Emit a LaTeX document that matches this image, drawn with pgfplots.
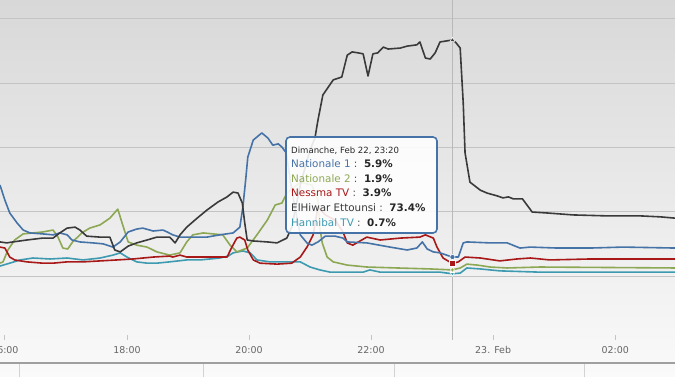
\documentclass[border=0pt]{standalone}
\usepackage{pgfplots}
\pgfplotsset{compat=1.18}
\usepackage{fontspec}
\setmainfont{DejaVu Sans}
\definecolor{cBlue}{HTML}{4572A7}
\definecolor{cGreen}{HTML}{8DA854}
\definecolor{cRed}{HTML}{A81818}
\definecolor{cDark}{HTML}{3A3A3A}
\definecolor{cTeal}{HTML}{3D9AB0}
\definecolor{cGrid}{HTML}{C4C4C4}
\definecolor{cBgTop}{HTML}{D8D8D8}
\definecolor{cBgBot}{HTML}{FAFAFA}
\definecolor{cLab}{HTML}{666666}

\pgfplotstableread{
h v
15.92 28.3
16.00 23.6
16.08 19.6
16.20 16.5
16.30 14.3
16.41 13.4
16.62 13.1
16.79 12.8
16.90 13.4
17.02 12.8
17.10 11.2
17.23 10.6
17.44 10.3
17.61 10.0
17.77 9.0
17.89 10.6
18.02 13.7
18.16 14.6
18.26 14.9
18.43 14.0
18.59 14.3
18.66 13.7
18.75 12.8
18.87 12.1
19.08 12.1
19.31 12.1
19.52 12.8
19.74 13.4
19.85 15.2
19.90 21.5
19.95 30.8
19.98 37.0
20.07 42.3
20.21 44.5
20.31 42.9
20.39 40.7
20.48 41.1
20.54 40.1
20.61 38.3
20.70 26.7
20.84 12.8
20.95 10.3
21.03 9.6
21.13 10.6
21.25 12.4
21.41 12.4
21.54 11.8
21.61 10.6
21.93 10.3
22.31 9.0
22.59 8.1
22.75 8.7
22.84 10.6
22.92 8.4
23.02 7.5
23.13 7.2
23.33 5.9
23.43 5.9
23.51 10.3
23.57 10.6
23.95 10.3
24.23 10.3
24.44 8.7
24.61 9.0
25.05 8.7
25.59 8.7
26.13 9.0
26.98 8.7
}\natA

\pgfplotstableread{
h v
15.92 4.0
15.97 4.4
16.05 8.1
16.16 11.2
16.30 13.1
16.46 13.4
16.62 13.7
16.79 14.3
16.87 12.1
16.95 8.7
17.03 8.4
17.11 10.6
17.26 13.4
17.39 14.9
17.56 15.9
17.72 18.0
17.85 20.8
17.93 15.9
18.02 10.6
18.16 9.6
18.33 9.0
18.49 7.5
18.70 6.5
18.87 7.2
18.98 10.6
19.08 12.8
19.25 13.4
19.41 13.1
19.57 12.8
19.69 9.6
19.80 7.5
19.97 8.7
20.13 12.8
20.30 17.4
20.43 22.1
20.54 22.7
20.62 25.8
20.84 29.2
21.03 28.3
21.13 23.6
21.16 15.2
21.20 10.3
21.28 5.9
21.38 4.4
21.61 3.4
21.93 2.8
22.43 2.5
22.97 2.2
23.33 1.9
23.46 2.5
23.57 3.7
23.74 3.4
23.95 2.8
24.23 2.5
24.77 2.8
26.98 2.5
}\natB

\pgfplotstableread{
h v
15.92 9.0
16.00 8.7
16.08 5.9
16.16 5.0
16.36 4.4
16.62 4.0
16.79 4.0
17.02 4.4
17.28 4.4
17.56 4.7
17.84 5.0
18.10 5.3
18.43 5.9
18.70 6.2
18.75 5.9
18.87 6.5
18.98 5.9
19.20 5.9
19.41 5.9
19.64 5.9
19.72 9.0
19.80 11.8
19.85 12.1
19.93 11.2
19.98 8.1
20.07 5.0
20.18 4.0
20.46 3.7
20.70 4.0
20.84 5.9
20.95 9.0
21.05 12.8
21.13 21.5
21.25 19.0
21.41 17.4
21.54 13.7
21.61 10.3
21.70 9.6
21.93 12.1
22.15 11.2
22.48 11.8
22.80 12.1
22.89 12.8
23.02 11.8
23.08 9.0
23.18 5.6
23.33 3.9
23.43 4.4
23.54 5.9
23.79 5.6
24.11 4.7
24.39 5.3
24.61 5.6
24.93 5.0
25.59 5.3
26.98 5.3
}\nessma

\pgfplotstableread{
h v
15.92 10.6
16.03 10.3
16.13 10.6
16.36 11.2
16.62 11.8
16.79 11.8
16.90 13.4
17.02 14.9
17.15 15.2
17.23 14.3
17.34 12.4
17.56 12.1
17.72 12.1
17.80 8.1
17.89 7.5
18.02 9.3
18.16 10.3
18.33 11.2
18.49 12.1
18.70 12.1
18.79 10.3
18.87 12.8
18.98 15.2
19.15 18.0
19.31 20.5
19.49 23.0
19.64 24.6
19.74 26.1
19.82 25.8
19.89 22.7
19.93 16.5
19.97 11.2
20.07 10.9
20.30 10.6
20.46 10.3
20.62 11.8
20.70 15.2
20.84 28.3
21.00 39.2
21.08 42.9
21.13 48.5
21.21 56.3
21.38 61.0
21.52 61.9
21.61 68.7
21.69 69.7
21.79 69.4
21.87 69.1
21.95 62.2
22.03 69.1
22.11 69.4
22.20 71.2
22.28 70.6
22.48 70.9
22.59 71.5
22.75 71.9
22.80 72.8
22.89 67.8
22.97 67.5
23.05 69.4
23.13 72.8
23.33 73.4
23.38 72.8
23.46 70.9
23.51 53.8
23.54 38.3
23.62 29.2
23.79 26.7
23.90 25.8
24.07 24.9
24.16 24.3
24.25 24.6
24.33 24.0
24.48 24.0
24.64 19.9
24.89 19.6
25.31 19.0
25.87 18.7
26.41 18.7
26.74 18.4
26.98 18.0
}\hiwar

\pgfplotstableread{
h v
15.92 3.1
16.08 4.0
16.25 5.0
16.46 5.6
16.74 5.3
17.02 5.6
17.28 5.0
17.56 5.6
17.77 6.5
17.89 7.2
18.00 5.9
18.16 4.4
18.33 4.0
18.49 4.0
18.70 4.4
18.98 5.0
19.20 5.0
19.52 5.6
19.66 6.2
19.74 7.2
19.90 7.8
20.02 7.2
20.13 5.0
20.34 4.4
20.62 4.4
20.84 4.4
21.00 2.8
21.16 1.9
21.33 1.2
21.87 1.2
21.98 1.9
22.15 1.2
22.69 1.2
23.13 1.2
23.33 0.7
23.46 0.9
23.57 2.5
23.79 2.2
24.11 1.6
24.77 1.2
26.98 1.2
}\hannibal

\begin{document}
\begin{tikzpicture}
\shade[top color=cBgTop, bottom color=cBgBot] (0,-37bp) rectangle (675bp,340bp);
\begin{axis}[
  scale only axis, width=675bp, height=340bp,
  at={(0,0)}, anchor=south west,
  xmin=15.92, xmax=26.98, ymin=-19.9, ymax=85.85,
  axis line style={draw=none},
  ytick={0,20,40,60,80}, yticklabels={}, ymajorgrids,
  grid style={draw=cGrid, line width=1bp},
  major y tick style={draw=none},
  xtick={16,18,20,22,24,26},
  xticklabels={16:00,18:00,20:00,22:00,23. Feb,02:00},
  xtick pos=bottom, tick align=inside, major tick length=5bp,
  major x tick style={draw=cGrid, line width=0.8bp},
  xticklabel shift=3bp,
  x tick label style={font=\fontsize{9.5}{11}\selectfont, text=cLab},
  every axis plot/.append style={line width=1.6bp, line join=round},
]
\draw[cGrid, line width=1bp] (axis cs:15.92,-19.9) -- (axis cs:26.98,-19.9);
\draw[gray!55, line width=0.8bp] (axis cs:23.333,-19.9) -- (axis cs:23.333,85.85);
\addplot[cTeal, no marks] table {\hannibal};
\addplot[cGreen, no marks] table {\natB};
\addplot[cRed, no marks] table {\nessma};
\addplot[cBlue, no marks] table {\natA};
\addplot[cDark, no marks] table {\hiwar};
\addplot[only marks, mark=*, mark size=2.6bp, cBlue, mark options={draw=white, line width=0.6bp}] coordinates {(23.333,5.9)};
\addplot[only marks, mark=square*, mark size=2.8bp, cRed, mark options={draw=white, line width=0.6bp}] coordinates {(23.333,3.9)};
\addplot[only marks, mark=diamond*, mark size=2.6bp, cGreen, mark options={draw=white, line width=0.6bp}] coordinates {(23.333,1.9)};
\addplot[only marks, mark=triangle*, mark size=2.6bp, cTeal, mark options={draw=white, line width=0.6bp, rotate=180}] coordinates {(23.333,0.7)};
\addplot[only marks, mark=triangle*, mark size=2.8bp, cDark, mark options={draw=white, line width=0.6bp}] coordinates {(23.333,73.4)};
\end{axis}
% tooltip
\draw[cBlue, line width=1.6bp, fill=white, fill opacity=0.88, rounded corners=4bp]
  (286bp,203bp) rectangle (437bp,107bp);
\node[anchor=base west, inner sep=0, text=black!85, font=\fontsize{8.6}{10}\selectfont] at (291bp,186bp) {Dimanche, Feb 22, 23:20};
\begin{scope}[every node/.style={anchor=base west, inner sep=0, font=\fontsize{10.4}{12}\selectfont}]
\node at (291bp,172.7bp) {\textcolor{cBlue}{Nationale 1}\textcolor{black!70}{\ :}\ \ \textcolor{black!85}{\bfseries 5.9\%}};
\node at (291bp,157.3bp) {\textcolor{cGreen}{Nationale 2}\textcolor{black!70}{\ :}\ \ \textcolor{black!85}{\bfseries 1.9\%}};
\node at (291bp,143.3bp) {\textcolor{cRed}{Nessma TV}\textcolor{black!70}{\ :}\ \ \textcolor{black!85}{\bfseries 3.9\%}};
\node at (291bp,128bp) {\textcolor{cDark}{ElHiwar Ettounsi}\textcolor{black!70}{\ :}\ \ \textcolor{black!85}{\bfseries 73.4\%}};
\node at (291bp,113bp) {\textcolor{cTeal}{Hannibal TV}\textcolor{black!70}{\ :}\ \ \textcolor{black!85}{\bfseries 0.7\%}};
\end{scope}
% navigator
\draw[gray!75, line width=1.5bp] (0,-23bp) -- (675bp,-23bp);
\foreach \xx in {19,203,394,584} \draw[gray!35, line width=0.8bp] (\xx bp,-24bp) -- (\xx bp,-37bp);
\pgfresetboundingbox
\useasboundingbox (0,-37bp) rectangle (675bp,340bp);
\end{tikzpicture}
\end{document}
